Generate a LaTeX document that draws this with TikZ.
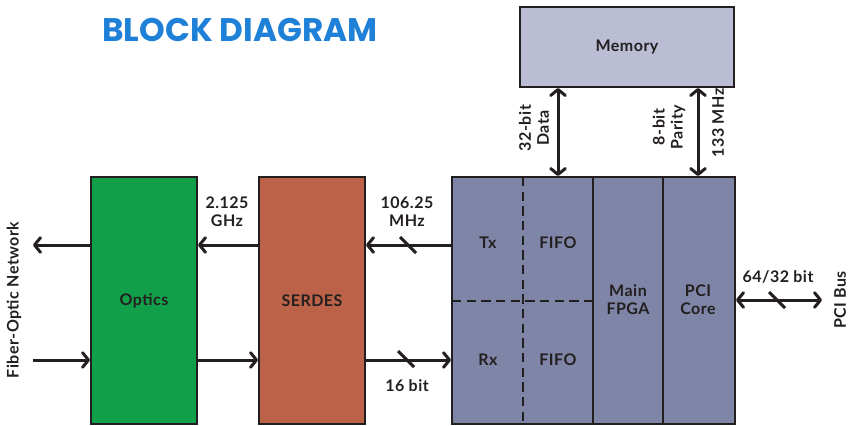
\documentclass[tikz,border=0pt]{standalone}
\usepackage{fontspec}
\setmainfont{Lato}[LetterSpace=3]
\newfontfamily\titlefont{Poppins}
\usetikzlibrary{arrows.meta}

\definecolor{linedark}{HTML}{231F20}
\definecolor{optgreen}{HTML}{11A049}
\definecolor{serdesred}{HTML}{BC6248}
\definecolor{fpgablue}{HTML}{7F85A7}
\definecolor{memblue}{HTML}{BBBDD5}
\definecolor{titleblue}{HTML}{1F80D8}

\newcommand{\labelfont}{\bfseries\fontsize{12}{13.5}\selectfont}
\newcommand{\busmark}[1]{\draw[markline] (#1) ++(-8,-8) -- ++(16,16);}

\tikzset{every picture/.style={line width=0.75pt}}
\tikzset{
  block/.style={draw=linedark, line width=1.5pt, inner sep=0pt, text=linedark, font=\labelfont},
  lbl/.style={font=\labelfont, align=center, text=linedark, inner sep=0pt},
  divider/.style={draw=linedark, line width=1.5pt},
  dashdiv/.style={draw=linedark, line width=1.5pt, dash pattern=on 7pt off 4pt},
  sig/.style={draw=linedark, line width=2.25pt, -{Straight Barb[length=4.5pt,width=11pt,line cap=round,line join=round]}},
  bus/.style={sig, {Straight Barb[length=4.5pt,width=11pt,line cap=round,line join=round]}-{Straight Barb[length=4.5pt,width=11pt,line cap=round,line join=round]}},
  markline/.style={draw=linedark, line width=2.25pt}
}

\begin{document}
\begin{tikzpicture}[x=0.75pt,y=0.75pt,yscale=-1,xscale=1]
		\useasboundingbox (0,0) rectangle (848,425);

		% Title
		\node[font=\titlefont\bfseries\fontsize{24.5}{28}\selectfont, text=titleblue] (title) at (240,30) {BLOCK DIAGRAM};

		% Blocks
		\node[block, fill=optgreen, minimum width=79.5pt, minimum height=185.25pt] (optics) at (144,300.5) {Optics};
		\node[block, fill=serdesred, minimum width=79.5pt, minimum height=185.25pt] (serdes) at (312,300.5) {SERDES};
		\node[block, fill=fpgablue, minimum width=212.25pt, minimum height=185.25pt] (fpga) at (593.5,300.5) {};
		\node[block, fill=memblue, minimum width=160.5pt, minimum height=60pt] (memory) at (627,47) {Memory};

		% FPGA partitions
		\draw[divider] (593,177) -- (593,424);
		\draw[divider] (663,177) -- (663,424);
		\draw[dashdiv] (523,177) -- (523,424);
		\draw[dashdiv] (452,301) -- (593,301);

		% Text Node
		\node[lbl] (tx) at (488,243) {Tx};
		\node[lbl] (txfifo) at (558,243) {FIFO};
		\node[lbl] (rx) at (488,360) {Rx};
		\node[lbl] (rxfifo) at (558,360) {FIFO};
		\node[lbl] (mainfpga) at (628,300) {Main\\FPGA};
		\node[lbl] (pcicore) at (698,300) {PCI\\Core};

		% Free ends
		\coordinate (fibout) at (33,245);
		\coordinate (fibin) at (33,360);
		\coordinate (pcibus) at (822,300);
		\coordinate (datax) at (558,0);
		\coordinate (parityx) at (698,0);

		% Connectors
		\draw[sig] (optics.west |- fibout) -- (fibout);
		\draw[sig] (fibin) -- (optics.west |- fibin);
		\draw[sig] (serdes.west |- fibout) -- (optics.east |- fibout);
		\draw[sig] (optics.east |- fibin) -- (serdes.west |- fibin);
		\draw[sig] (fpga.west |- fibout) -- (serdes.east |- fibout);
		\draw[sig] (serdes.east |- fibin) -- (fpga.west |- fibin);
		\draw[bus] (memory.south -| datax) -- (fpga.north -| datax);
		\draw[bus] (memory.south -| parityx) -- (fpga.north -| parityx);
		\draw[bus] (fpga.east |- pcibus) -- (pcibus);

		% Bus width marks
		\busmark{408,245}
		\busmark{406,359}
		\busmark{777,300}

		% Text Node
		\node[lbl] (ghz) at (227,212) {2.125\\GHz};
		\node[lbl] (mhz) at (407,212) {106.25\\MHz};
		\node[lbl] (sixteen) at (407,386) {16 bit};
		\node[lbl] (pciwidth) at (778,277) {64/32 bit};
		\node[lbl, rotate=90] (datalbl) at (534,128) {32-bit\\Data};
		\node[lbl, rotate=90] (paritylbl) at (669,127) {8-bit\\Parity};
		\node[lbl, rotate=90] (clklbl) at (718,123) {133 MHz};
		\node[lbl, rotate=90] (fiberlbl) at (14,300) {Fiber-Optic Network};
		\node[lbl, rotate=90] (pcilbl) at (840,300) {PCI Bus};

	\end{tikzpicture}
\end{document}
